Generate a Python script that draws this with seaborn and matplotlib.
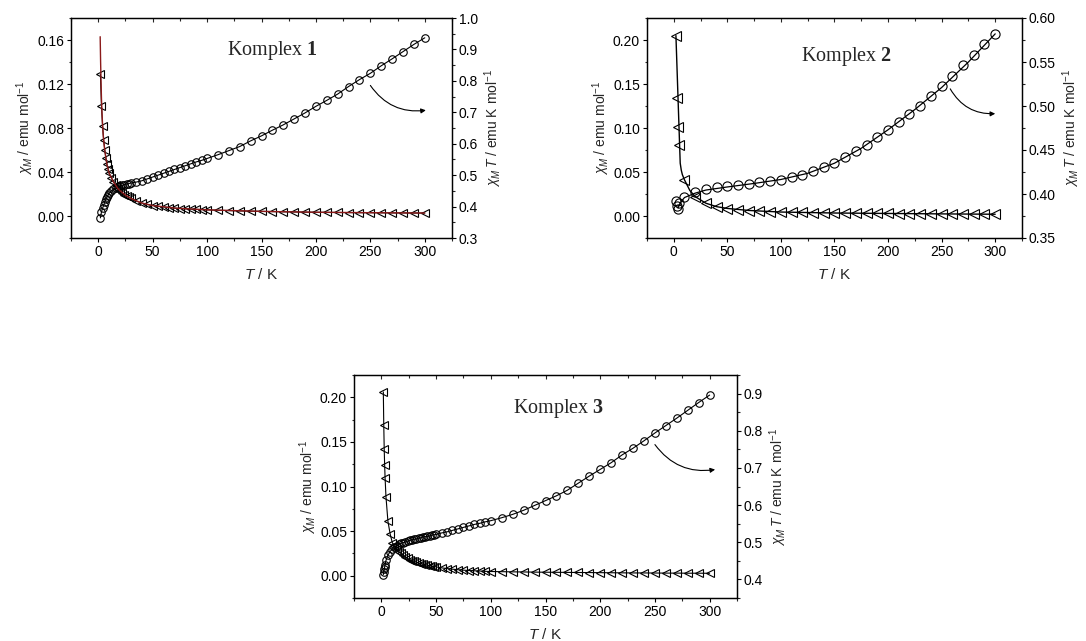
import numpy as np
import pandas as pd
import matplotlib
matplotlib.use("Agg")
import matplotlib.pyplot as plt
from matplotlib.ticker import MultipleLocator, FormatStrFormatter
import seaborn as sns

# ---------------- data ----------------
# Komplex 1
T1 = [2, 3, 4, 5, 6, 7, 8, 9, 10, 12, 14, 16, 18, 20, 22, 24, 26, 28, 30,
      35, 40, 45, 50, 55, 60, 65, 70, 75, 80, 85, 90, 95, 100,
      110, 120, 130, 140, 150, 160, 170, 180, 190, 200,
      210, 220, 230, 240, 250, 260, 270, 280, 290, 300]
chi1 = [0.129, 0.100, 0.082, 0.069, 0.060, 0.053, 0.047, 0.043, 0.039, 0.035,
        0.031, 0.028, 0.025, 0.023, 0.021, 0.0195, 0.018, 0.017, 0.016,
        0.0135, 0.0118, 0.0105, 0.0095, 0.0088, 0.0082, 0.0077, 0.0072, 0.0068,
        0.0065, 0.0062, 0.0060, 0.0058, 0.0056,
        0.0052, 0.0049, 0.0046, 0.0044, 0.0042, 0.0040, 0.0038, 0.0037, 0.0035,
        0.0034, 0.0033, 0.0032, 0.0031, 0.0030, 0.0030, 0.0029, 0.0028, 0.0028,
        0.0027, 0.0027]
chiT1 = [0.364, 0.383, 0.395, 0.404, 0.415, 0.423, 0.430, 0.436, 0.442, 0.449,
         0.455, 0.459, 0.463, 0.466, 0.468, 0.470, 0.472, 0.473, 0.475,
         0.478, 0.482, 0.488, 0.494, 0.500, 0.506, 0.512, 0.518, 0.524, 0.530,
         0.536, 0.542, 0.547, 0.553,
         0.565, 0.578, 0.591, 0.609, 0.625, 0.643, 0.660, 0.679, 0.698, 0.719,
         0.738, 0.758, 0.782, 0.804, 0.824, 0.848, 0.870, 0.893, 0.916, 0.937]
Tfit1 = [1.8, 2.2, 2.6, 3, 3.5, 4, 4.5, 5, 6, 7, 8, 9, 10, 12, 14, 16, 18, 20,
         25, 30, 40, 50, 70, 100, 150, 200, 250, 300]
chifit1 = [0.163, 0.140, 0.122, 0.106, 0.093, 0.083, 0.075, 0.069, 0.060, 0.053,
           0.047, 0.043, 0.039, 0.035, 0.031, 0.028, 0.025, 0.023, 0.019, 0.016,
           0.0118, 0.0095, 0.0072, 0.0056, 0.0042, 0.0034, 0.0030, 0.0027]

# Komplex 2
T2 = [2, 3, 4, 5, 10, 20, 30, 40, 50, 60, 70, 80, 90, 100, 110, 120, 130, 140,
      150, 160, 170, 180, 190, 200, 210, 220, 230, 240, 250, 260, 270, 280, 290, 300]
chi2 = [0.205, 0.134, 0.101, 0.081, 0.041, 0.022, 0.0145, 0.0106, 0.0085, 0.0070,
        0.0061, 0.0055, 0.0050, 0.0045, 0.0042, 0.0040, 0.0038, 0.0036, 0.0034,
        0.0033, 0.0032, 0.0031, 0.0030, 0.0029, 0.0028, 0.0027, 0.0026, 0.0025,
        0.0024, 0.0023, 0.0022, 0.0021, 0.0021, 0.0020]
chiT2 = [0.3916, 0.386, 0.383, 0.390, 0.3966, 0.4018, 0.4057, 0.4075, 0.4086,
         0.4098, 0.4114, 0.4132, 0.4143, 0.4163, 0.4189, 0.4219, 0.4257, 0.4302,
         0.4352, 0.4416, 0.4484, 0.4557, 0.4643, 0.4731, 0.4814, 0.4913, 0.5003,
         0.511, 0.5223, 0.5336, 0.5461, 0.5583, 0.5704, 0.5818]
Tfit2 = [2, 6, 7, 8, 10, 15, 20, 30, 40, 50, 70, 100, 150, 200, 250, 300]
chifit2 = [0.205, 0.060, 0.052, 0.047, 0.041, 0.029, 0.022, 0.0145, 0.0106,
           0.0086, 0.0063, 0.0045, 0.0034, 0.0029, 0.0024, 0.0020]
TfitT2 = [4, 6, 10, 20, 30, 50, 75, 100, 125, 150, 175, 200, 225, 250, 275, 300]
chiTfit2 = [0.384, 0.390, 0.396, 0.401, 0.4045, 0.408, 0.412, 0.4165, 0.4235,
            0.435, 0.452, 0.473, 0.496, 0.521, 0.550, 0.582]

# Komplex 3
T3 = [1.8, 2.2, 2.6, 3, 3.4, 4.2, 6, 8, 10,
      12, 14, 16, 18, 20, 22, 24, 26, 28, 30, 32, 34, 36, 38, 40, 42, 44, 46, 48, 50,
      55, 60, 65, 70, 75, 80, 85, 90, 95, 100,
      110, 120, 130, 140, 150, 160, 170, 180, 190, 200,
      210, 220, 230, 240, 250, 260, 270, 280, 290, 300]
chi3 = [0.206, 0.169, 0.1425, 0.124, 0.110, 0.0887, 0.061, 0.047, 0.037,
        0.033, 0.030, 0.027, 0.025, 0.023, 0.021, 0.0195, 0.018, 0.017, 0.016,
        0.015, 0.0142, 0.0135, 0.0128, 0.0122, 0.0117, 0.0112, 0.0107, 0.0103, 0.0099,
        0.0088, 0.0080, 0.0073, 0.0067, 0.0062, 0.0058, 0.0055, 0.0052, 0.0049, 0.0047,
        0.0045, 0.0043, 0.0042, 0.0040, 0.0039, 0.0038, 0.0037, 0.0036, 0.0035, 0.0034,
        0.0033, 0.0032, 0.0031, 0.0031, 0.0030, 0.0029, 0.0029, 0.0028, 0.0028, 0.0027]
chiT3 = [0.413, 0.420, 0.427, 0.433, 0.440, 0.451, 0.465, 0.475, 0.482,
         0.487, 0.491, 0.494, 0.497, 0.499, 0.501, 0.503, 0.505, 0.506, 0.508,
         0.509, 0.511, 0.512, 0.514, 0.515, 0.516, 0.517, 0.519, 0.520, 0.521,
         0.525, 0.528, 0.532, 0.536, 0.540, 0.544, 0.548, 0.551, 0.555, 0.558,
         0.566, 0.575, 0.586, 0.599, 0.612, 0.625, 0.640, 0.659, 0.678, 0.696,
         0.714, 0.735, 0.753, 0.773, 0.794, 0.814, 0.834, 0.855, 0.876, 0.896]

# ---------------- style ----------------
sns.set_theme(style="ticks")
plt.rcParams["font.family"] = ["Liberation Sans", "DejaVu Sans"]
plt.rcParams["mathtext.fontset"] = "custom"
plt.rcParams["mathtext.rm"] = "Liberation Sans"
plt.rcParams["mathtext.it"] = "Liberation Sans:italic"
plt.rcParams["mathtext.bf"] = "Liberation Serif:bold"
plt.rcParams["axes.linewidth"] = 0.9
plt.rcParams["axes.edgecolor"] = "black"

W, H = 1086, 641
fig = plt.figure(figsize=(W / 100, H / 100), dpi=100)


def px_box(left, top, right, bottom):
    return [left / W, 1 - bottom / H, (right - left) / W, (bottom - top) / H]


panels = [
    dict(pos=px_box(71, 18, 452, 238), T=T1, chi=chi1, chiT=chiT1,
         fit=(Tfit1, chifit1, "#8b1a1a"), fitT=None, tri_line=True,
         ylim=(-0.02, 0.18), ymaj=0.04, ymin=0.02, yfmt="%.2f",
         y2lim=(0.3, 1.0), y2maj=0.1, y2min=0.05, y2fmt="%.1f",
         label="1", lab_xy=(160, 0.150), arrow=((250, 0.1187), (301, 0.0961)),
         ms=5.4),
    dict(pos=px_box(647, 18, 1022, 238), T=T2, chi=chi2, chiT=chiT2,
         fit=(Tfit2, chifit2, "black"), fitT=(TfitT2, chiTfit2), tri_line=False,
         ylim=(-0.025, 0.225), ymaj=0.05, ymin=0.025, yfmt="%.2f",
         y2lim=(0.35, 0.60), y2maj=0.05, y2min=0.025, y2fmt="%.2f",
         label="2", lab_xy=(161, 0.181), arrow=((258, 0.1445), (300, 0.1163)),
         ms=6.6),
    dict(pos=px_box(354, 375, 737, 598), T=T3, chi=chi3, chiT=chiT3,
         fit=None, fitT=None, tri_line=True,
         ylim=(-0.025, 0.225), ymaj=0.05, ymin=0.025, yfmt="%.2f",
         y2lim=(0.35, 0.95), y2maj=0.1, y2min=0.05, y2fmt="%.1f",
         label="3", lab_xy=(162, 0.187), arrow=((250, 0.147), (305, 0.119)),
         ms=5.4),
]

for p in panels:
    ax = fig.add_axes(p["pos"])
    ax2 = ax.twinx()
    df = pd.DataFrame({"T": p["T"], "chi": p["chi"], "chiT": p["chiT"]})
    # chi_M (triangles, left axis)
    sns.lineplot(data=df, x="T", y="chi", ax=ax, color="black", lw=0.8,
                 marker="<", markersize=p["ms"], markerfacecolor="none",
                 markeredgecolor="black", markeredgewidth=0.8,
                 estimator=None, sort=False,
                 linestyle="-" if p["tri_line"] else "none")
    if p["fit"] is not None:
        tf, cf, col = p["fit"]
        sns.lineplot(x=tf, y=cf, ax=ax, color=col, lw=1.0, estimator=None, sort=False)
    # chi_M T (circles, right axis)
    sns.lineplot(data=df, x="T", y="chiT", ax=ax2, color="black", lw=0.8,
                 marker="o", markersize=p["ms"], markerfacecolor="none",
                 markeredgecolor="black", markeredgewidth=0.8,
                 estimator=None, sort=False,
                 linestyle="none" if p["fitT"] is not None else "-")
    if p["fitT"] is not None:
        sns.lineplot(x=p["fitT"][0], y=p["fitT"][1], ax=ax2, color="black", lw=0.9,
                     estimator=None, sort=False)

    ax.set_xlim(-25, 325)
    ax.set_ylim(*p["ylim"])
    ax2.set_ylim(*p["y2lim"])
    ax.xaxis.set_major_locator(MultipleLocator(50))
    ax.xaxis.set_minor_locator(MultipleLocator(25))
    ax.yaxis.set_major_locator(MultipleLocator(p["ymaj"]))
    ax.yaxis.set_minor_locator(MultipleLocator(p["ymin"]))
    ax.yaxis.set_major_formatter(FormatStrFormatter(p["yfmt"]))
    ax2.yaxis.set_major_locator(MultipleLocator(p["y2maj"]))
    ax2.yaxis.set_minor_locator(MultipleLocator(p["y2min"]))
    ax2.yaxis.set_major_formatter(FormatStrFormatter(p["y2fmt"]))

    for a in (ax, ax2):
        a.tick_params(which="major", direction="out", length=3, width=0.8,
                      labelsize=10, colors="black", pad=2)
        a.tick_params(which="minor", direction="out", length=1.8, width=0.8)
        for s in a.spines.values():
            s.set_visible(True)
            s.set_color("black")
            s.set_linewidth(0.9)
    # inward ticks on top spine
    sec = ax.secondary_xaxis("top")
    sec.xaxis.set_major_locator(MultipleLocator(50))
    sec.xaxis.set_minor_locator(MultipleLocator(25))
    sec.tick_params(which="major", direction="in", length=3, width=0.8, labeltop=False)
    sec.tick_params(which="minor", direction="in", length=1.8, width=0.8)
    sec.spines["top"].set_visible(False)

    ax.set_xlabel(r"$T$ / K", fontsize=11, labelpad=6)
    ax.set_ylabel(r"$\chi_M$ / emu mol$^{-1}$", fontsize=10, labelpad=1)
    ax2.set_ylabel(r"$\chi_M\,T$ / emu K mol$^{-1}$", fontsize=10, labelpad=3)

    ax.text(p["lab_xy"][0], p["lab_xy"][1], r"Komplex $\mathbf{" + p["label"] + "}$",
            fontsize=14.5, family="Liberation Serif", ha="center", va="center")
    (xs, ys), (xe, ye) = p["arrow"]
    ax.annotate("", xy=(xe, ye), xytext=(xs, ys),
                arrowprops=dict(arrowstyle="-|>", connectionstyle="arc3,rad=0.3",
                                color="black", lw=0.8, mutation_scale=7,
                                shrinkA=0, shrinkB=0))
    ax.set_zorder(ax2.get_zorder() + 1)
    ax.patch.set_visible(False)

fig.savefig("out.png", dpi=100, facecolor="white")
